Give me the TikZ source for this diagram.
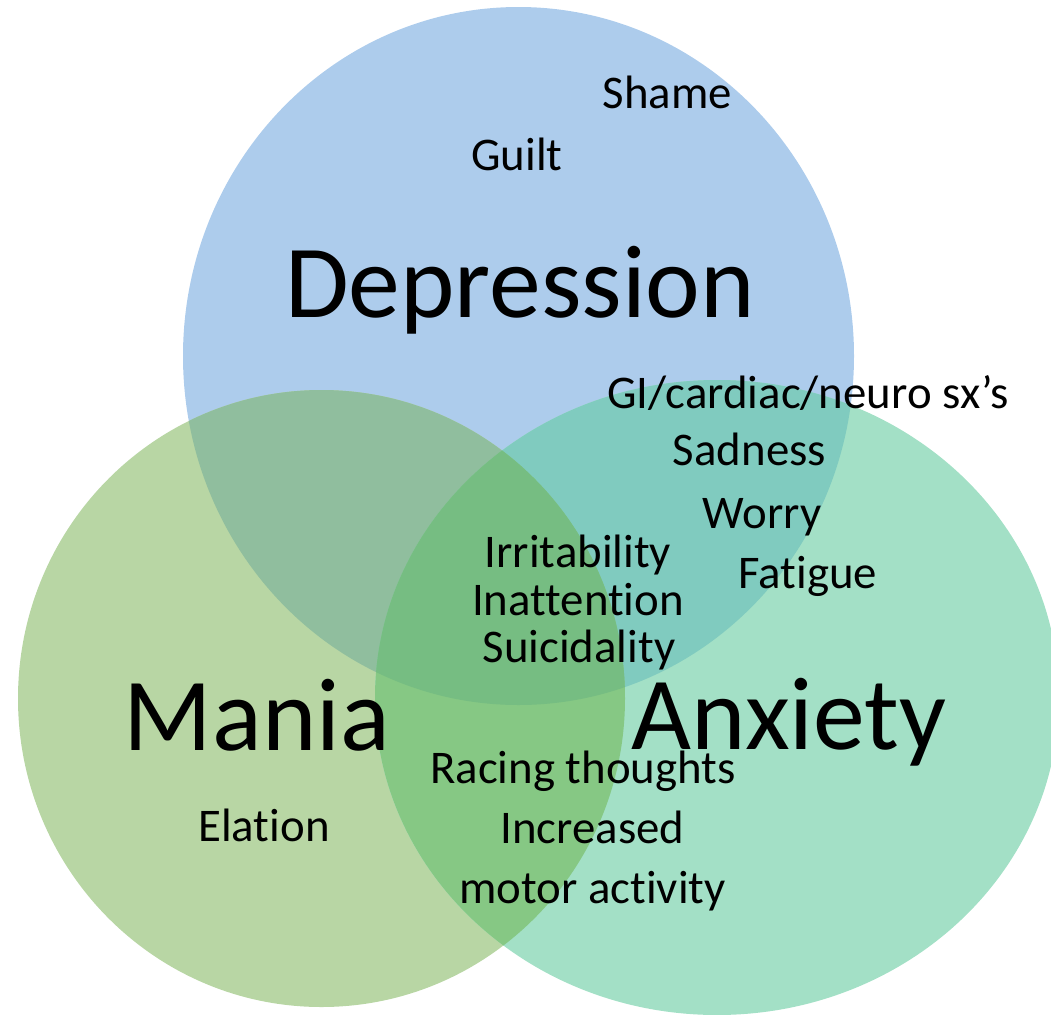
\documentclass[tikz,border=0pt]{standalone}
\usepackage{fontspec}
\setmainfont{Carlito}[Ligatures={NoCommon}]
\definecolor{Dcol}{RGB}{173,204,236}
\definecolor{Mcol}{RGB}{184,214,164}
\definecolor{Acol}{RGB}{163,224,198}
\definecolor{DMcol}{RGB}{144,190,158}
\definecolor{DAcol}{RGB}{128,203,191}
\definecolor{MAcol}{RGB}{134,200,132}
\definecolor{DMAcol}{RGB}{118,189,130}
\tikzset{
  lbl/.style={font=\fontsize{47}{47}\selectfont, anchor=base, inner sep=0pt, text=black},
  big/.style={font=\fontsize{104}{104}\selectfont, anchor=base, inner sep=0pt, text=black},
}
\begin{document}
\begin{tikzpicture}[x=1bp,y=-1bp]
\useasboundingbox (0,0) rectangle (1051,1015);
\clip (0,0) rectangle (1051,1015);
% single sets
\fill[Dcol] (518.5,356) ellipse [x radius=335.5, y radius=349];
\fill[Mcol] (321.5,698.5) ellipse [x radius=303.5, y radius=308.5];
\fill[Acol] (717,697.5) ellipse [x radius=342, y radius=317.5];
% pairwise overlaps
\begin{scope}
  \clip (518.5,356) ellipse [x radius=335.5, y radius=349];
  \fill[DMcol] (321.5,698.5) ellipse [x radius=303.5, y radius=308.5];
\end{scope}
\begin{scope}
  \clip (518.5,356) ellipse [x radius=335.5, y radius=349];
  \fill[DAcol] (717,697.5) ellipse [x radius=342, y radius=317.5];
\end{scope}
\begin{scope}
  \clip (321.5,698.5) ellipse [x radius=303.5, y radius=308.5];
  \fill[MAcol] (717,697.5) ellipse [x radius=342, y radius=317.5];
\end{scope}
% triple overlap
\begin{scope}
  \clip (518.5,356) ellipse [x radius=335.5, y radius=349];
  \clip (321.5,698.5) ellipse [x radius=303.5, y radius=308.5];
  \fill[DMAcol] (717,697.5) ellipse [x radius=342, y radius=317.5];
\end{scope}
% labels
\node[lbl] (shame) at (667.5,108) {Shame};
\node[lbl] (guilt) at (517,170) {Guilt};
\node[big] (depression) at (520,317) {Depression};
\node[lbl] (gi) at (808,408) {GI/cardiac/neuro sx’s};
\node[lbl] (sadness) at (749.5,465) {Sadness};
\node[lbl] (worry) at (762,528) {Worry};
\node[lbl] (fatigue) at (808,588) {Fatigue};
\node[lbl] (irrit) at (578,567) {Irritability};
\node[lbl] (inatt) at (578,615) {Inattention};
\node[lbl] (suic) at (579,662) {Suicidality};
\node[big] (mania) at (257,750) {Mania};
\node[big] (anxiety) at (789,749) {Anxiety};
\node[lbl] (elation) at (264,841.5) {Elation};
\node[lbl] (racing) at (583,783) {Racing thoughts};
\node[lbl] (incr) at (592.5,843.5) {Increased};
\node[lbl] (motor) at (592.5,903) {motor activity};
\end{tikzpicture}
\end{document}
